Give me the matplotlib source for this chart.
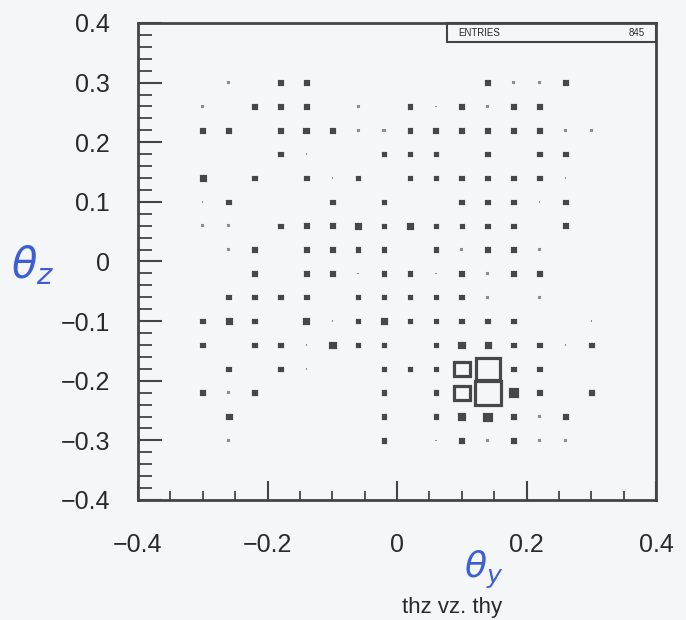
import matplotlib
matplotlib.use("Agg")
import matplotlib.pyplot as plt
from matplotlib.patches import Rectangle
from matplotlib.ticker import FixedLocator, FixedFormatter, MultipleLocator

# ---- data -------------------------------------------------------------
# bin centres (thy along x, thz along y); bin width 0.04
x_centers = [-0.30, -0.26, -0.22, -0.18, -0.14, -0.10, -0.06, -0.02,
             0.02, 0.06, 0.10, 0.14, 0.18, 0.22, 0.26, 0.30]
y_centers = [0.30, 0.26, 0.22, 0.18, 0.14, 0.10, 0.06, 0.02,
             -0.02, -0.06, -0.10, -0.14, -0.18, -0.22, -0.26, -0.30]
bin_width = 0.04

# cell contents, one row per y centre (top to bottom), columns follow x_centers
counts = [
    [0, 1, 0, 4, 4, 0, 0, 0, 0, 0, 0, 4, 1, 1, 4, 0],
    [1, 0, 4, 4, 4, 0, 2, 0, 4, 1, 4, 1, 4, 4, 0, 0],
    [4, 4, 0, 4, 6, 4, 2, 2, 4, 5, 4, 4, 4, 4, 1, 1],
    [0, 0, 0, 4, 1, 0, 1, 4, 4, 4, 0, 4, 0, 4, 4, 0],
    [6, 0, 4, 0, 4, 1, 4, 0, 4, 4, 4, 4, 4, 4, 1, 0],
    [1, 4, 0, 0, 0, 4, 0, 4, 0, 1, 4, 4, 4, 1, 4, 0],
    [1, 2, 0, 4, 5, 5, 6, 4, 6, 4, 3, 4, 4, 0, 5, 0],
    [0, 2, 5, 0, 4, 4, 4, 4, 0, 4, 1, 4, 4, 2, 0, 0],
    [0, 0, 4, 0, 4, 4, 1, 4, 4, 1, 4, 1, 4, 4, 0, 0],
    [0, 4, 4, 4, 4, 0, 4, 4, 4, 4, 4, 1, 0, 1, 0, 0],
    [4, 6, 4, 0, 6, 1, 4, 6, 4, 4, 4, 4, 4, 0, 0, 1],
    [4, 0, 4, 4, 1, 7, 4, 4, 0, 4, 7, 6, 4, 4, 1, 4],
    [0, 4, 0, 4, 1, 0, 1, 4, 4, 4, 24, 37, 4, 4, 0, 0],
    [4, 1, 4, 0, 0, 0, 0, 4, 0, 4, 24, 40, 12, 4, 0, 4],
    [0, 6, 0, 0, 0, 0, 0, 4, 0, 4, 8, 10, 4, 1, 4, 0],
    [0, 1, 0, 0, 0, 0, 0, 4, 0, 1, 4, 1, 4, 1, 1, 0],
]

x_ticks = [-0.4, -0.2, 0.0, 0.2, 0.4]
x_tick_labels = ["\u22120.4", "\u22120.2", "0", "0.2", "0.4"]
y_ticks = [-0.4, -0.3, -0.2, -0.1, 0.0, 0.1, 0.2, 0.3, 0.4]
y_tick_labels = ["\u22120.4", "\u22120.3", "\u22120.2", "\u22120.1", "0",
                 "0.1", "0.2", "0.3", "0.4"]
title_text = "thz vz. thy"
entries_label = "ENTRIES"
entries_value = "845"

# ---- figure -----------------------------------------------------------
bg = "#f5f6f7"
ink = "#2a2a2a"
box_col = "#474747"
hand_blue = "#3d5fd6"

fig = plt.figure(figsize=(6.86, 6.20), dpi=100, facecolor=bg)
ax = fig.add_axes([138 / 686, 1 - 500 / 620, 518 / 686, 477 / 620])
ax.set_facecolor(bg)
ax.set_xlim(-0.4, 0.4)
ax.set_ylim(-0.4, 0.4)

cmax = max(max(r) for r in counts)
for j, yc in enumerate(y_centers):
    for i, xc in enumerate(x_centers):
        c = counts[j][i]
        if c <= 0:
            continue
        w = bin_width * c / cmax
        if c <= 2:
            col, lw = "#8e8e8e", 1.5
        else:
            col, lw = box_col, 2.3
        face = col if c < 15 else "none"
        ax.add_patch(Rectangle((xc - w / 2, yc - w / 2), w, w,
                               facecolor=face, edgecolor=col,
                               linewidth=lw, joinstyle="miter"))

# spines
for s in ax.spines.values():
    s.set_color("#444444")
    s.set_linewidth(2.0)

ax.xaxis.set_major_locator(FixedLocator(x_ticks))
ax.xaxis.set_major_formatter(FixedFormatter(x_tick_labels))
ax.xaxis.set_minor_locator(MultipleLocator(0.05))
ax.yaxis.set_major_locator(FixedLocator(y_ticks))
ax.yaxis.set_major_formatter(FixedFormatter(y_tick_labels))
ax.yaxis.set_minor_locator(MultipleLocator(0.02))

ax.tick_params(axis="x", which="major", direction="in", length=14, width=1.5,
               color="#444444", pad=24, labelsize=18, labelcolor=ink)
ax.tick_params(axis="x", which="minor", direction="in", length=6.5, width=1.3,
               color="#444444")
ax.tick_params(axis="y", which="major", direction="in", length=17, width=1.5,
               color="#444444", pad=20, labelsize=18, labelcolor=ink)
ax.tick_params(axis="y", which="minor", direction="in", length=10, width=1.3,
               color="#444444")
for lab in ax.get_xticklabels() + ax.get_yticklabels():
    lab.set_family("Liberation Sans")

# statistics box in the top-right corner
ax.add_patch(Rectangle((0.597, 0.96), 0.403, 0.04, transform=ax.transAxes,
                       facecolor=bg, edgecolor="#444444", linewidth=1.5,
                       clip_on=False))
ax.text(0.618, 0.98, entries_label, transform=ax.transAxes, fontsize=7,
        family="Liberation Sans", color=ink, va="center", ha="left")
ax.text(0.979, 0.98, entries_value, transform=ax.transAxes, fontsize=7,
        family="Liberation Sans", color=ink, va="center", ha="right")

# handwritten-style axis symbols and caption
fig.text(33 / 686, 1 - 265 / 620, r"$\theta_z$", fontsize=30, color=hand_blue,
         ha="center", va="center")
fig.text(484 / 686, 1 - 570 / 620, r"$\theta_y$", fontsize=26, color=hand_blue,
         ha="center", va="center")
fig.text(452 / 686, 1 - 607 / 620, title_text, fontsize=16,
         family="Liberation Sans", color=ink, ha="center", va="center")

fig.savefig("out.png", dpi=100, facecolor=bg)
